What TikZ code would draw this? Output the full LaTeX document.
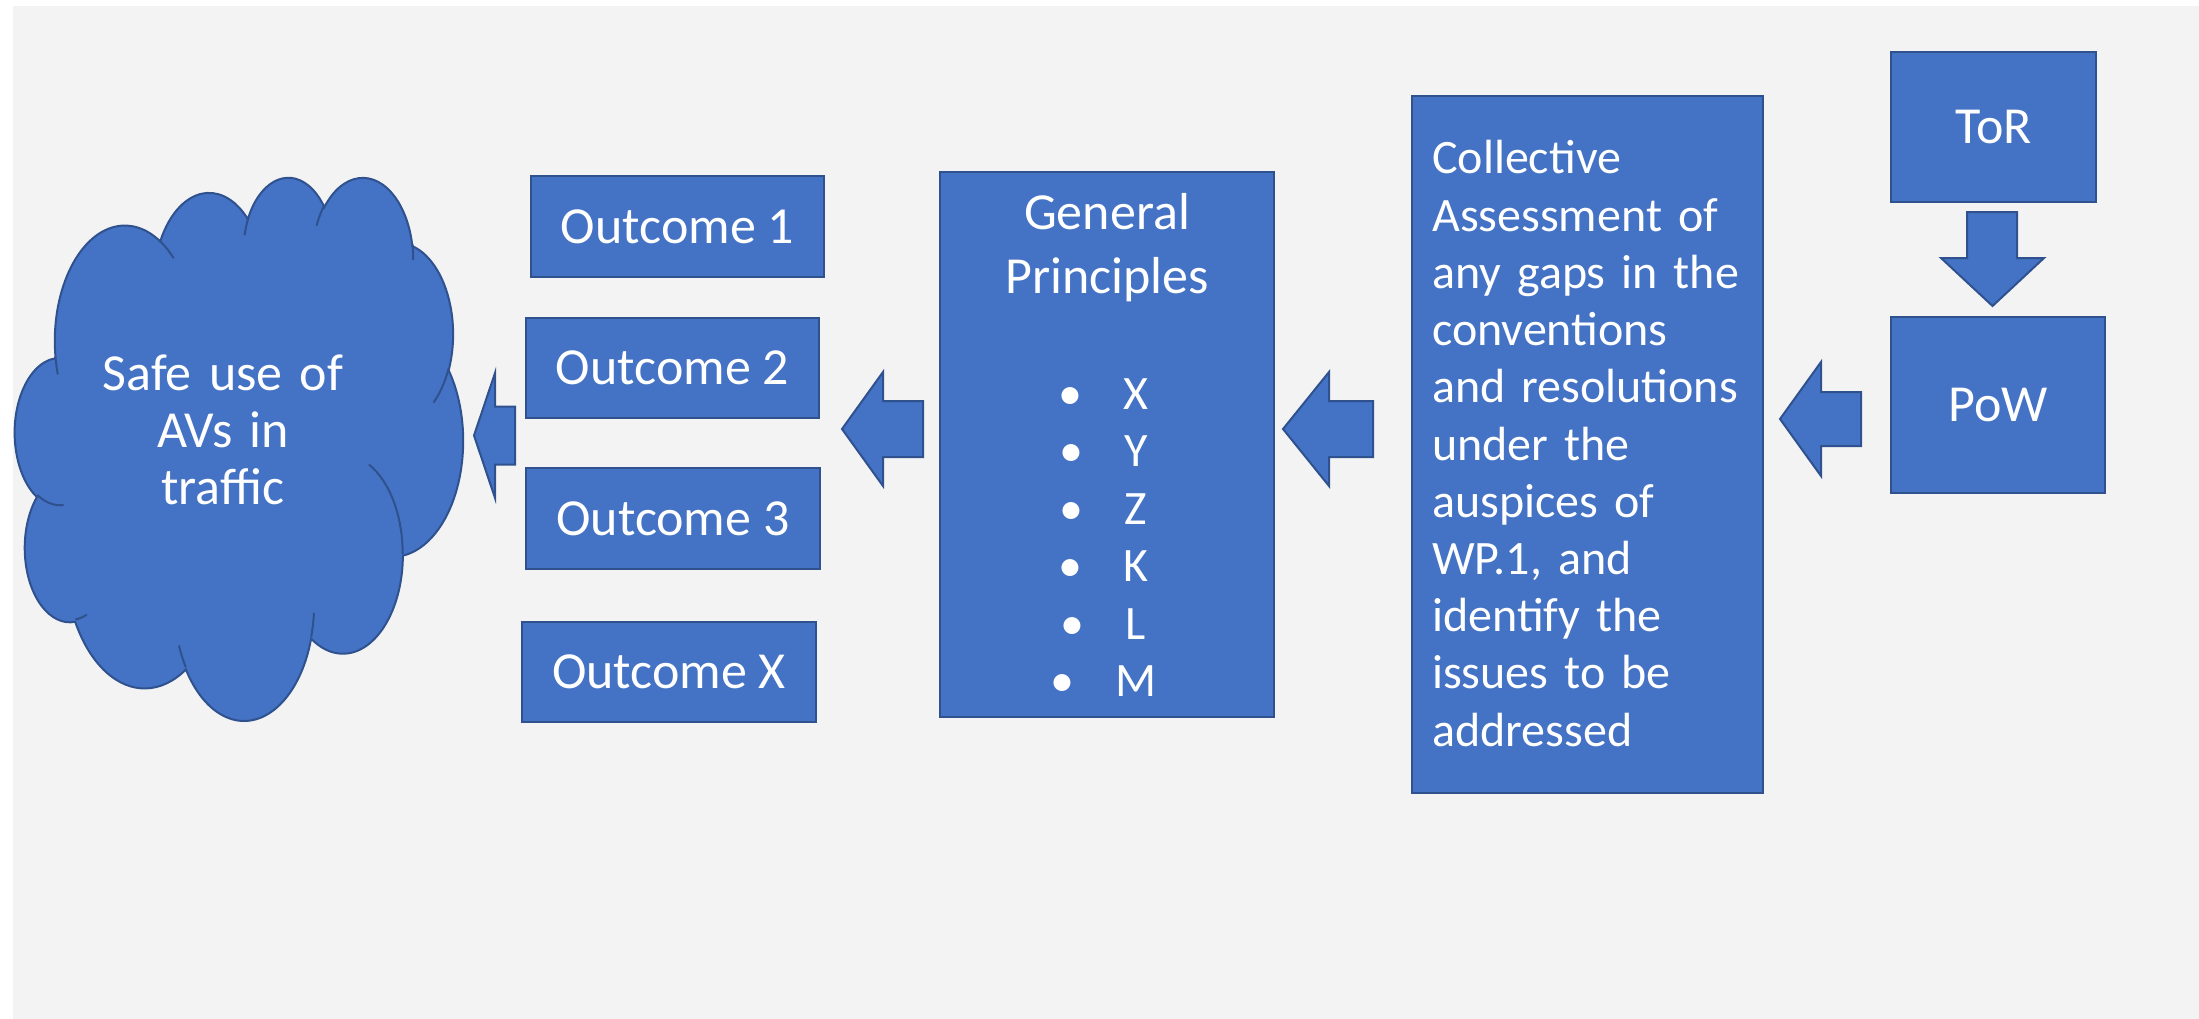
\documentclass[tikz,border=0pt]{standalone}
\usepackage{fontspec}
\setmainfont{Carlito}
\definecolor{blu}{HTML}{4472C4}
\definecolor{bdr}{HTML}{2F528F}
\definecolor{bgc}{HTML}{F3F3F3}
\newcommand\ooprep[5]{%
  \pgfmathparse{atan2((#2)*sin(#4),(#3)*cos(#4))}\let\tmpa\pgfmathresult
  \pgfmathparse{atan2((#2)*sin((#4)+(#5)),(#3)*cos((#4)+(#5)))}\let\tmpb\pgfmathresult
  \pgfmathparse{\tmpb-\tmpa}\let\tmpd\pgfmathresult
  \pgfmathparse{\tmpd+360*round(((#5)-\tmpd)/360)}\let\tmpd\pgfmathresult
  \expandafter\xdef\csname oo#1s\endcsname{\tmpa}%
  \expandafter\xdef\csname oo#1d\endcsname{\tmpd}%
}
\newcommand\lblock[6]{% tipx, tipy, head back x, shaft end x, half head, half shaft
  \draw[arr] (#1,#2) -- (#3,{#2-#5}) -- (#3,{#2-#6}) -- (#4,{#2-#6}) -- (#4,{#2+#6}) -- (#3,{#2+#6}) -- (#3,{#2+#5}) -- cycle;}
\tikzset{
  box/.style={rectangle, draw=bdr, fill=blu, line width=2pt, text=white, inner sep=0pt, font=\fontsize{52}{62}\selectfont},
  txt/.style={text=white, inner sep=0pt},
  arr/.style={draw=bdr, fill=blu, line width=2pt, line join=miter},
}
\begin{document}
\begin{tikzpicture}[x=1pt,y=-1pt]
\ooprep{A}{15.6319}{21.2731}{-190.4875}{123.7805}
\ooprep{B}{12.3449}{16.8218}{-144.1024}{89.9452}
\ooprep{C}{10.1042}{13.7616}{-145.8079}{99.7230}
\ooprep{D}{11.2431}{15.2662}{-130.9861}{117.2417}
\ooprep{E}{12.3449}{16.8356}{-78.7089}{109.0269}
\ooprep{F}{15.6829}{21.3426}{-46.2673}{130.2690}
\ooprep{G}{13.3912}{18.2106}{0.6250}{114.0333}
\ooprep{H}{15.6296}{21.3310}{22.4516}{115.1726}
\ooprep{I}{17.8704}{24.4051}{66.2426}{75.7110}
\ooprep{J}{10.0926}{13.6991}{-274.9421}{146.7356}
\ooprep{K}{10.0579}{13.7616}{-246.8285}{152.5189}
\ooprep{a}{10.0579}{13.7616}{86.7420}{26.4295}
\ooprep{b}{10.0926}{13.6991}{73.6105}{11.4475}
\ooprep{c}{15.6296}{21.3310}{137.6242}{14.0811}
\ooprep{d}{15.6296}{21.3310}{6.4533}{15.9984}
\ooprep{e}{13.3912}{18.2106}{-70.2924}{70.9174}
\ooprep{f}{12.3449}{16.8356}{30.3180}{27.7515}
\ooprep{g}{11.2431}{15.2662}{-13.7443}{14.8589}
\ooprep{h}{11.2431}{15.2662}{-149.1815}{18.1954}
\ooprep{i}{10.1042}{13.7616}{-163.4943}{17.6864}
\ooprep{j}{15.6319}{21.2731}{-66.7070}{12.3194}
\ooprep{k}{15.6319}{21.2731}{157.6544}{11.8582}
\useasboundingbox (0,0) rectangle (2199,1019);
\fill[white] (0,0) rectangle (2199,1019);
\fill[bgc] (13,6) rectangle (2199,1019);
% cloud
\begin{scope}[shift={(15pt,-176pt)}, x=4.48pt, y=-5.43pt]
\draw[arr] (9.0278,33.2639)
  arc[start angle=\ooAs, delta angle=\ooAd, x radius=15.6319, y radius=21.2731]
  arc[start angle=\ooBs, delta angle=\ooBd, x radius=12.3449, y radius=16.8218]
  arc[start angle=\ooCs, delta angle=\ooCd, x radius=10.1042, y radius=13.7616]
  arc[start angle=\ooDs, delta angle=\ooDd, x radius=11.2431, y radius=15.2662]
  arc[start angle=\ooEs, delta angle=\ooEd, x radius=12.3449, y radius=16.8356]
  arc[start angle=\ooFs, delta angle=\ooFd, x radius=15.6829, y radius=21.3426]
  arc[start angle=\ooGs, delta angle=\ooGd, x radius=13.3912, y radius=18.2106]
  arc[start angle=\ooHs, delta angle=\ooHd, x radius=15.6296, y radius=21.3310]
  arc[start angle=\ooIs, delta angle=\ooId, x radius=17.8704, y radius=24.4051]
  arc[start angle=\ooJs, delta angle=\ooJd, x radius=10.0926, y radius=13.6991]
  arc[start angle=\ooKs, delta angle=\ooKd, x radius=10.0579, y radius=13.7616]
  -- cycle;
\draw[bdr, line width=2pt]
  (10.8634,60.5949) arc[start angle=\ooas, delta angle=\ooad, x radius=10.0579, y radius=13.7616]
  (16.0370,80.7847) arc[start angle=\oobs, delta angle=\oobd, x radius=10.0926, y radius=13.6991]
  (38.1435,90.4861) arc[start angle=\oocs, delta angle=\oocd, x radius=15.6296, y radius=21.3310]
  (66.7292,80.4421) arc[start angle=\oods, delta angle=\oodd, x radius=15.6296, y radius=21.3310]
  (79.0023,53.1343) arc[start angle=\ooes, delta angle=\ooed, x radius=13.3912, y radius=18.2106]
  (96.7546,35.5417) arc[start angle=\oofs, delta angle=\oofd, x radius=12.3449, y radius=16.8356]
  (88.7130,12.5602) arc[start angle=\oogs, delta angle=\oogd, x radius=11.2431, y radius=15.2662]
  (67.3102,9.1481) arc[start angle=\oohs, delta angle=\oohd, x radius=11.2431, y radius=15.2662]
  (51.2523,10.9259) arc[start angle=\oois, delta angle=\ooid, x radius=10.1042, y radius=13.7616]
  (32.4074,12.0185) arc[start angle=\oojs, delta angle=\oojd, x radius=15.6319, y radius=21.2731]
  (9.5532,36.5486) arc[start angle=\ooks, delta angle=\ookd, x radius=15.6319, y radius=21.2731];
\end{scope}
\node[txt, align=center, text width=300pt, anchor=base, font=\fontsize{52}{57}\selectfont] (cloudt) at (223,390) {Safe use of\\AVs in\\traffic};
% outcomes
\node[box, minimum width=293pt, minimum height=101pt] (o1) at (677.5,226.5) {Outcome 1};
\node[box, minimum width=293pt, minimum height=100pt] (o2) at (672.5,368) {Outcome 2};
\node[box, minimum width=294pt, minimum height=101pt] (o3) at (673,518.5) {Outcome 3};
\node[box, minimum width=294pt, minimum height=100pt] (ox) at (669,672) {Outcome X};
% general principles
\node[box, minimum width=334pt, minimum height=545pt] (gp) at (1107,444.5) {};
\node[txt, align=center, text width=330pt, anchor=base, font=\fontsize{52}{65}\selectfont] (gpt) at (1107,229) {General\\Principles};
\tikzset{itm/.style={txt, anchor=base, font=\fontsize{48}{57}\selectfont}}
\node[itm] (iX) at (1136,409) {X};
\node[itm] (iY) at (1136,466.5) {Y};
\node[itm] (iZ) at (1136,524) {Z};
\node[itm] (iK) at (1136,581.5) {K};
\node[itm] (iL) at (1136,639) {L};
\node[itm] (iM) at (1136,696) {M};
\foreach \n in {X,Y,Z,K,L,M}{\node[itm] (b\n) at ([xshift=-53pt]i\n.base west) {•};}
% collective assessment
\node[box, minimum width=351pt, minimum height=697pt] (ca) at (1587.5,444.5) {};
\node[txt, align=left, text width=340pt, anchor=base west, font=\fontsize{48}{57.2}\selectfont] (cat) at (1432,174) {Collective\\Assessment of\\any gaps in the\\conventions\\and resolutions\\under the\\auspices of\\WP.1, and\\identify the\\issues to be\\addressed};
% ToR and PoW
\node[box, minimum width=205pt, minimum height=150pt] (tor) at (1993.5,127) {ToR};
\node[box, minimum width=214pt, minimum height=176pt] (pow) at (1998,405) {PoW};
% block arrows
\lblock{474}{435.5}{495}{515}{62.5}{29}
\lblock{842}{429}{883}{923}{57}{28}
\lblock{1283}{429}{1329}{1373}{57}{28}
\lblock{1780}{419}{1821}{1861}{57}{27}
\draw[arr] (1992.5,306) -- (1941,258) -- (1967,258) -- (1967,212) -- (2017,212) -- (2017,258) -- (2044,258) -- cycle;
\end{tikzpicture}
\end{document}
